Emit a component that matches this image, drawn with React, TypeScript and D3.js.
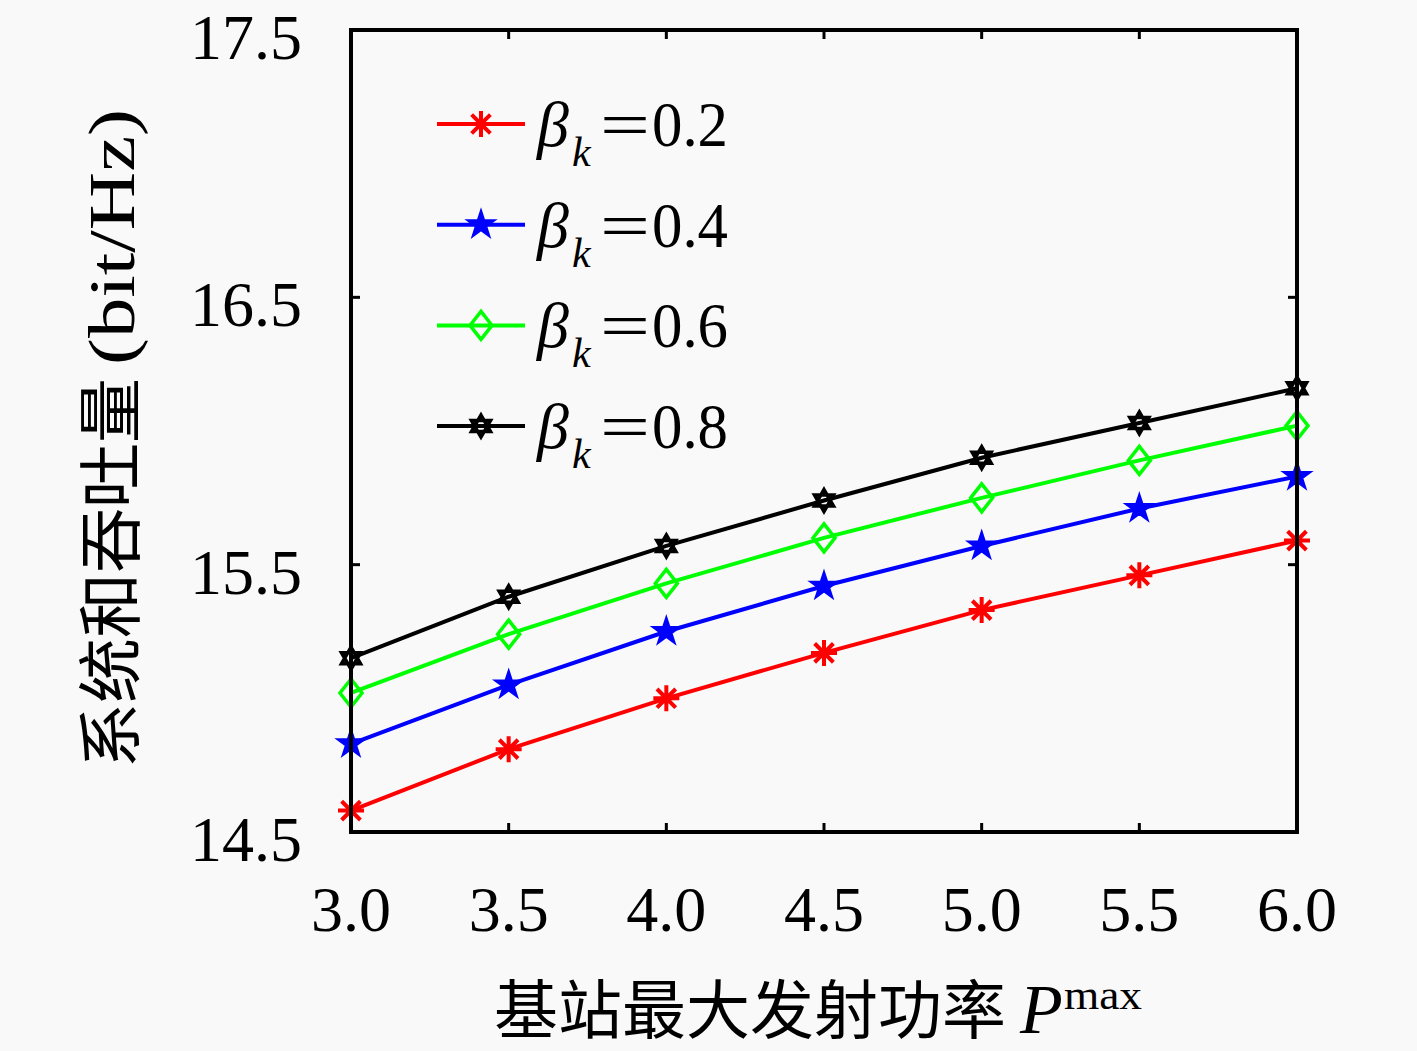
import React, { useEffect } from "react";
import * as d3 from "d3";

// x: 基站最大发射功率 P^max
const powers = [3.0, 3.5, 4.0, 4.5, 5.0, 5.5, 6.0];
const xTicks = ["3.0", "3.5", "4.0", "4.5", "5.0", "5.5", "6.0"];
const yTicks = [14.5, 15.5, 16.5, 17.5];

const betaLabels = ["0.2", "0.4", "0.6", "0.8"];
const seriesBeta02 = [14.58, 14.81, 15.0, 15.17, 15.33, 15.46, 15.59];
const seriesBeta04 = [14.83, 15.05, 15.25, 15.42, 15.57, 15.71, 15.83];
const seriesBeta06 = [15.02, 15.24, 15.43, 15.6, 15.75, 15.89, 16.02];
const seriesBeta08 = [15.15, 15.38, 15.57, 15.74, 15.9, 16.03, 16.16];

const W = 1417;
const H = 1051;
const margin = { top: 30, right: 120, bottom: 219, left: 351 };
const mathFont = "'Liberation Serif', 'DejaVu Serif', serif";
const cjkFont = "'Noto Sans CJK SC', sans-serif";

const asterisk = (r: number) => {
  const d = r * 0.72;
  return `M${-r},0L${r},0M0,${-r}L0,${r}M${-d},${-d}L${d},${d}M${-d},${d}L${d},${-d}`;
};

const hexagram = (r: number) => {
  const tri = (off: number) =>
    d3.range(3).map(i => {
      const a = off + (i * 2 * Math.PI) / 3;
      return [r * Math.sin(a), -r * Math.cos(a)];
    });
  const p = (pts: number[][]) => "M" + pts.map(q => q.join(",")).join("L") + "Z";
  return p(tri(0)) + p(tri(Math.PI));
};

const diamond = (w: number, h: number) => `M0,${-h}L${w},0L0,${h}L${-w},0Z`;
const pentagram = d3.symbol(d3.symbolStar, 230)() as string;

const series = [
  { values: seriesBeta02, color: "#ff0000", marker: asterisk(13), fill: "none", sw: 4 },
  { values: seriesBeta04, color: "#0000ff", marker: pentagram, fill: "#0000ff", sw: 2 },
  { values: seriesBeta06, color: "#00ff00", marker: diamond(11, 14), fill: "none", sw: 3.5 },
  { values: seriesBeta08, color: "#000000", marker: hexagram(11), fill: "none", sw: 3.5 },
];

export default function App() {
  useEffect(() => {
    document.body.style.margin = "0";
  }, []);

  const innerW = W - margin.left - margin.right;
  const innerH = H - margin.top - margin.bottom;
  const x = d3.scaleLinear().domain([3, 6]).range([margin.left, margin.left + innerW]);
  const y = d3.scaleLinear().domain([14.5, 17.5]).range([margin.top + innerH, margin.top]);
  const line = d3
    .line<number>()
    .x((_, i) => x(powers[i]))
    .y(d => y(d));

  const tick = 9;
  const x0 = x(3), x1 = x(6), y0 = y(14.5), y1 = y(17.5);

  return (
    <svg width={W} height={H} style={{ display: "block", background: "#f9f9f9" }}>
      <rect width={W} height={H} fill="#f9f9f9" />
      {/* ticks */}
      {powers.map(p => (
        <g key={"xt" + p} stroke="#000" strokeWidth={3}>
          <line x1={x(p)} x2={x(p)} y1={y0} y2={y0 - tick} />
          <line x1={x(p)} x2={x(p)} y1={y1} y2={y1 + tick} />
        </g>
      ))}
      {yTicks.map(v => (
        <g key={"yt" + v} stroke="#000" strokeWidth={3}>
          <line x1={x0} x2={x0 + tick} y1={y(v)} y2={y(v)} />
          <line x1={x1} x2={x1 - tick} y1={y(v)} y2={y(v)} />
        </g>
      ))}
      {/* series */}
      {series.map((s, si) => (
        <g key={"s" + si}>
          <path d={line(s.values) as string} fill="none" stroke={s.color} strokeWidth={4} />
          {s.values.map((v, i) => (
            <path
              key={i}
              d={s.marker}
              transform={`translate(${x(powers[i])},${y(v)})`}
              fill={s.fill}
              stroke={s.color}
              strokeWidth={s.sw}
            />
          ))}
        </g>
      ))}
      {/* frame */}
      <rect x={x0} y={y1} width={x1 - x0} height={y0 - y1} fill="none" stroke="#000" strokeWidth={4} />
      {/* tick labels */}
      {powers.map((p, i) => (
        <text key={"xl" + p} x={x(p)} y={931} textAnchor="middle" fontFamily={mathFont} fontSize={64}>
          {xTicks[i]}
        </text>
      ))}
      {yTicks.map(v => (
        <text key={"yl" + v} x={302} y={y(v) + 29} textAnchor="end" fontFamily={mathFont} fontSize={64}>
          {v.toFixed(1)}
        </text>
      ))}
      {/* legend */}
      {series.map((s, i) => {
        const ly = 124 + i * 100.7;
        return (
          <g key={"lg" + i}>
            <line x1={437} x2={525} y1={ly} y2={ly} stroke={s.color} strokeWidth={4} />
            <path d={s.marker} transform={`translate(481,${ly})`} fill={s.fill} stroke={s.color} strokeWidth={s.sw} />
            <text y={ly + 22} fontFamily={mathFont} fontSize={64}>
              <tspan x={537} fontStyle="italic">β</tspan>
              <tspan x={572} fontStyle="italic" fontSize={42} dy={20}>k</tspan>
              <tspan x={600} dy={-20} textLength={50} lengthAdjust="spacingAndGlyphs">=</tspan>
              <tspan x={652} textLength={76} lengthAdjust="spacingAndGlyphs">{betaLabels[i]}</tspan>
            </text>
          </g>
        );
      })}
      {/* axis titles */}
      <text x={494} y={1033} fontFamily={cjkFont} fontSize={64}>
        基站最大发射功率
      </text>
      <text x={1020} y={1033} fontFamily={mathFont} fontStyle="italic" fontSize={70}>
        P
      </text>
      <text x={1064} y={1009} fontFamily={mathFont} fontSize={42} textLength={78} lengthAdjust="spacingAndGlyphs">
        max
      </text>
      <text
        transform="translate(134,768) rotate(-90)"
        textAnchor="start"
        fontFamily={cjkFont}
        fontSize={65}
      >
        系统和吞吐量
      </text>
      <text
        transform="translate(134,365) rotate(-90)"
        textAnchor="start"
        fontFamily={mathFont}
        fontSize={66}
        textLength={256}
        lengthAdjust="spacingAndGlyphs"
      >
        (bit/Hz)
      </text>
    </svg>
  );
}
